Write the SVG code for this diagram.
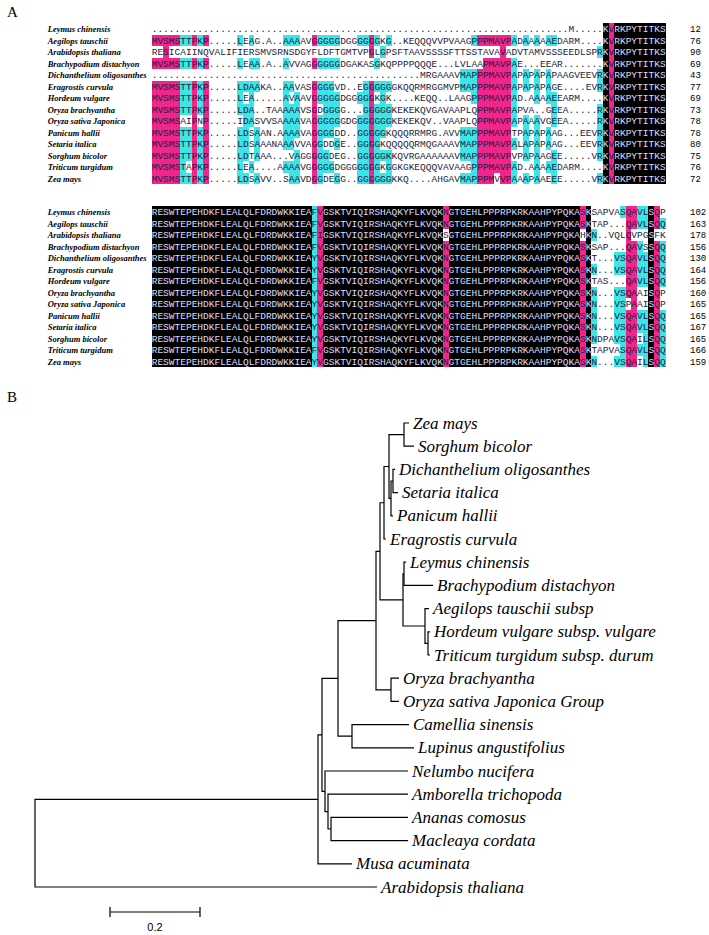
<svg xmlns="http://www.w3.org/2000/svg" xmlns:xlink="http://www.w3.org/1999/xlink" width="709" height="935" viewBox="0 0 709 935">
<style>
.pl{font-family:"Liberation Serif",serif;font-size:15px;fill:#000}
.lbl{font-family:"Liberation Serif",serif;font-weight:bold;font-style:italic;font-size:8.5px;fill:#000}
.seq{font-family:"Liberation Mono",monospace;font-size:9.52px}
.num{font-family:"Liberation Mono",monospace;font-size:9px;fill:#000}
.m{fill:#F0268C}
.c{fill:#3DE4E8}
.k{fill:#000}
.tl{font-family:"Liberation Serif",serif;font-style:italic;font-size:17px;fill:#000}
.br{stroke:#000;stroke-width:1.2;fill:none}
.sc{font-family:"Liberation Sans",sans-serif;font-size:11px;fill:#000}
</style>
<defs>
<clipPath id="k1">
<rect x="602.79" y="23.25" width="5.71" height="161"/>
<rect x="614.21" y="23.25" width="51.39" height="161"/>
</clipPath>
<clipPath id="k2">
<rect x="151.7" y="206.25" width="159.88" height="161"/>
<rect x="322.99" y="206.25" width="119.91" height="161"/>
<rect x="448.62" y="206.25" width="131.33" height="161"/>
<rect x="585.66" y="206.25" width="5.71" height="161"/>
<rect x="648.47" y="206.25" width="5.71" height="161"/>
</clipPath>
<g id="s1" class="seq">
<text x="151.7" y="32.2">.........................................................................M.....KVRKPYTITKS</text>
<text x="151.7" y="43.7">MVSMSTTPKP.....LEAG.A..AAAAVGGGGGDGGGGGGKG..KEQQQVVPVAAGPPPMAVPADAAAAAEDARM....KVRKPYTITKS</text>
<text x="151.7" y="55.2">RESICAIINQVALIFIERSMVSRNSDGYFLDFTGMTVPGLGPSFTAAVSSSSFTTSSTAVAVADVTAMVSSSEEDLSPRKVRKPYTITKS</text>
<text x="151.7" y="66.7">MVSMSTTPKP.....LEAA.A..AVVAGGGGGGDGAKASGKQPPPPQQQE...LVLAAPMAVPAE...EEAR.......KVRKPYTITKS</text>
<text x="151.7" y="78.2">...............................................MRGAAAVMAPPPMAVPAPAPAPAPAAGVEEVRKVRKPYTITKS</text>
<text x="151.7" y="89.7">MVSMSTTPKP.....LDAAKA..AAVASGGGGVD..EGGGGGGKQQRMRGGMVPMAPPPMAVPAPAPAPAGE....EVRKVRKPYTITKS</text>
<text x="151.7" y="101.2">MVSMSTTPKP.....LEA.....AVAAVGGGGGDGGGGGKGK....KEQQ..LAAGPPPMAVPAD.AAAAEEARM....KVRKPYTITKS</text>
<text x="151.7" y="112.7">MVSMSTTPKP.....LDA..TAAAAAVSGDGGGG...GGGGGKEKEKQVGAVAAPLQPPMAVPAPVA..GEEA.....RKVRKPYTITKS</text>
<text x="151.7" y="124.2">MVSMSAIPNP.....IDASVVSAAAAVAGGGGGGDGGGGGGGKEKEKQV..VAAPLQPPMAVPAPAAAVGEEA.....RKVRKPYTITKS</text>
<text x="151.7" y="135.7">MVSMSTTPKP.....LDSAAN.AAAAVAGGGGDD..GGGGGKQQQRRMRG.AVVMAPPPMAVPTPAPAPAAG...EEVRKVRKPYTITKS</text>
<text x="151.7" y="147.2">MVSMSTTPKP.....LDSAAANAAAVVAGGDDGE..GGGGKQQQQQRMQGAAAVMAPPPMAVPALAPAPAAG...EEVRKVRKPYTITKS</text>
<text x="151.7" y="158.7">MVSMSTTPKP.....LDTAAA...VAGGGGGDEG..GGGGGKKQVRGAAAAAAVMAPPPMAVPVPAPAAGEE.....VRKVRKPYTITKS</text>
<text x="151.7" y="170.2">MVSMSTAPKP.....LEA....AAAAVGGGGGDGGGGGGGKGGKGKEQQQVAVAAGPPPMAVPAD.AAAAEDARM....KVRKPYTITKS</text>
<text x="151.7" y="181.7">MVSMSTTPKP.....LDSAVV..SAAVDGGDEGG..GGGGGGKKQ....AHGAVMAPPPMVVPAAAPAAEEE.....VRKVRKPYTITKS</text>
</g>
<g id="s2" class="seq">
<text x="151.7" y="215.2">RESWTEPEHDKFLEALQLFDRDWKKIEAFVGSKTVIQIRSHAQKYFLKVQKNGTGEHLPPPRPKRKAAHPYPQKASKSAPVASQAVLSQP</text>
<text x="151.7" y="226.7">RESWTEPEHDKFLEALQLFDRDWKKIEAFVGSKTVIQIRSHAQKYFLKVQKNGTGEHLPPPRPKRKAAHPYPQKASKTAP...QAVLSQQ</text>
<text x="151.7" y="238.2">RESWTEPEHDKFLEALQLFDRDWKKIEAFIGSKTVIQIRSHAQKYFLKVQKSGTGEHLPPPRPKRKAAHPYPQKAHKN..VQLQVPGSFK</text>
<text x="151.7" y="249.7">RESWTEPEHDKFLEALQLFDRDWKKIEAFVGSKTVIQIRSHAQKYFLKVQKNGTGEHLPPPRPKRKAAHPYPQKASKSAP...QAVSSQQ</text>
<text x="151.7" y="261.2">RESWTEPEHDKFLEALQLFDRDWKKIEAYVGSKTVIQIRSHAQKYFLKVQKNGTGEHLPPPRPKRKAAHPYPQKASKT...VSQAVLSQQ</text>
<text x="151.7" y="272.7">RESWTEPEHDKFLEALQLFDRDWKKIEAYVGSKTVIQIRSHAQKYFLKVQKNGTGEHLPPPRPKRKAAHPYPQKASKN...VSQAVLSQQ</text>
<text x="151.7" y="284.2">RESWTEPEHDKFLEALQLFDRDWKKIEAFVGSKTVIQIRSHAQKYFLKVQKNGTGEHLPPPRPKRKAAHPYPQKASKTAS...QAVLSQQ</text>
<text x="151.7" y="295.7">RESWTEPEHDKFLEALQLFDRDWKKIEAYVGSKTVIQIRSHAQKYFLKVQKNGTGEHLPPPRPKRKAAHPYPQKASKN...VSQAAISQP</text>
<text x="151.7" y="307.2">RESWTEPEHDKFLEALQLFDRDWKKIEAYVGSKTVIQIRSHAQKYFLKVQKNGTGEHLPPPRPKRKAAHPYPQKASKN...VSPAAISQP</text>
<text x="151.7" y="318.7">RESWTEPEHDKFLEALQLFDRDWKKIEAYVGSKTVIQIRSHAQKYFLKVQKNGTGEHLPPPRPKRKAAHPYPQKASKN...VSQAVLSQQ</text>
<text x="151.7" y="330.2">RESWTEPEHDKFLEALQLFDRDWKKIEAYVGSKTVIQIRSHAQKYFLKVQKNGTGEHLPPPRPKRKAAHPYPQKASKN...VSQAVLSQQ</text>
<text x="151.7" y="341.7">RESWTEPEHDKFLEALQLFDRDWKKIEAYVGSKTVIQIRSHAQKYFLKVQKNGTGEHLPPPRPKRKAAHPYPQKASKNDPAVSQAILSQQ</text>
<text x="151.7" y="353.2">RESWTEPEHDKFLEALQLFDRDWKKIEAFVGSKTVIQIRSHAQKYFLKVQKNGTGEHLPPPRPKRKAAHPYPQKASKTAPVASQAVLSQQ</text>
<text x="151.7" y="364.7">RESWTEPEHDKFLEALQLFDRDWKKIEAYVGSKTVIQIRSHAQKYFLKVQKNGTGEHLPPPRPKRKAAHPYPQKASKN...VSQAILSQQ</text>
</g>
</defs>

<text class="pl" x="7" y="17">A</text>

<g id="block1-bg" transform="translate(151.7,23.25) scale(5.71,11.5)" shape-rendering="crispEdges">
<g class="m">
<rect x="0" y="1" width="5" height="1"/><rect x="0" y="3" width="5" height="1"/><rect x="0" y="5" width="5" height="9"/><rect x="2" y="2" width="1" height="1"/>
<rect x="7" y="1" width="1" height="1"/><rect x="7" y="3" width="1" height="1"/><rect x="7" y="5" width="1" height="9"/>
<rect x="9" y="1" width="1" height="1"/><rect x="9" y="3" width="1" height="1"/><rect x="9" y="5" width="1" height="9"/>
<rect x="28" y="1" width="1" height="1"/><rect x="28" y="3" width="1" height="1"/><rect x="28" y="5" width="1" height="9"/>
<rect x="38" y="1" width="1" height="2"/><rect x="38" y="5" width="1" height="9"/>
<rect x="57" y="1" width="1" height="1"/><rect x="57" y="4" width="1" height="10"/>
<rect x="58" y="1" width="2" height="1"/><rect x="58" y="3" width="2" height="11"/>
<rect x="60" y="1" width="1" height="1"/><rect x="60" y="3" width="1" height="10"/>
<rect x="61" y="1" width="1" height="13"/>
<rect x="62" y="1" width="1" height="1"/><rect x="62" y="3" width="1" height="11"/>
<rect x="80" y="0" width="1" height="14"/>
</g>
<g class="c">
<rect x="5" y="1" width="1" height="1"/><rect x="5" y="3" width="1" height="1"/><rect x="5" y="5" width="1" height="3"/><rect x="5" y="9" width="1" height="5"/>
<rect x="6" y="1" width="1" height="1"/><rect x="6" y="3" width="1" height="1"/><rect x="6" y="5" width="1" height="3"/><rect x="6" y="9" width="1" height="3"/><rect x="6" y="13" width="1" height="1"/>
<rect x="8" y="1" width="1" height="1"/><rect x="8" y="3" width="1" height="1"/><rect x="8" y="5" width="1" height="3"/><rect x="8" y="9" width="1" height="5"/>
<rect x="15" y="1" width="1" height="1"/><rect x="15" y="3" width="1" height="1"/><rect x="15" y="5" width="1" height="3"/><rect x="15" y="9" width="1" height="5"/>
<rect x="16" y="5" width="1" height="1"/><rect x="16" y="7" width="1" height="5"/><rect x="16" y="13" width="1" height="1"/>
<rect x="17" y="1" width="1" height="1"/><rect x="17" y="3" width="1" height="1"/><rect x="17" y="5" width="1" height="4"/><rect x="17" y="12" width="1" height="1"/>
<rect x="18" y="3" width="1" height="1"/><rect x="18" y="5" width="1" height="1"/><rect x="18" y="9" width="1" height="3"/><rect x="18" y="13" width="1" height="1"/>
<rect x="23" y="1" width="1" height="1"/><rect x="23" y="3" width="1" height="1"/><rect x="23" y="5" width="1" height="6"/><rect x="23" y="12" width="1" height="1"/>
<rect x="24" y="1" width="1" height="1"/><rect x="24" y="5" width="1" height="1"/><rect x="24" y="7" width="1" height="4"/><rect x="24" y="12" width="1" height="2"/>
<rect x="25" y="1" width="1" height="1"/><rect x="25" y="6" width="1" height="4"/><rect x="25" y="11" width="1" height="3"/>
<rect x="29" y="1" width="1" height="1"/><rect x="29" y="3" width="1" height="1"/><rect x="29" y="5" width="1" height="2"/><rect x="29" y="8" width="1" height="6"/>
<rect x="30" y="1" width="1" height="1"/><rect x="30" y="3" width="1" height="1"/><rect x="30" y="5" width="1" height="5"/><rect x="30" y="11" width="1" height="2"/>
<rect x="31" y="1" width="1" height="1"/><rect x="31" y="3" width="1" height="1"/><rect x="31" y="5" width="1" height="5"/><rect x="31" y="12" width="1" height="1"/>
<rect x="32" y="1" width="1" height="1"/><rect x="32" y="3" width="1" height="1"/><rect x="32" y="6" width="1" height="3"/><rect x="32" y="10" width="1" height="1"/><rect x="32" y="13" width="1" height="1"/>
<rect x="36" y="1" width="1" height="1"/><rect x="36" y="6" width="1" height="1"/><rect x="36" y="8" width="1" height="6"/>
<rect x="37" y="1" width="1" height="1"/><rect x="37" y="5" width="1" height="9"/>
<rect x="39" y="1" width="1" height="1"/><rect x="39" y="3" width="1" height="1"/><rect x="39" y="5" width="1" height="1"/><rect x="39" y="7" width="1" height="7"/>
<rect x="40" y="2" width="1" height="1"/><rect x="40" y="5" width="1" height="5"/><rect x="40" y="11" width="1" height="1"/><rect x="40" y="13" width="1" height="1"/>
<rect x="41" y="1" width="1" height="1"/><rect x="41" y="5" width="1" height="1"/><rect x="41" y="7" width="1" height="2"/><rect x="41" y="11" width="1" height="3"/>
<rect x="54" y="4" width="2" height="2"/><rect x="54" y="9" width="2" height="3"/><rect x="54" y="13" width="2" height="1"/>
<rect x="56" y="1" width="1" height="1"/><rect x="56" y="4" width="1" height="3"/><rect x="56" y="9" width="1" height="5"/>
<rect x="63" y="1" width="1" height="1"/><rect x="63" y="3" width="1" height="6"/><rect x="63" y="10" width="1" height="1"/><rect x="63" y="12" width="1" height="2"/>
<rect x="65" y="1" width="1" height="1"/><rect x="65" y="4" width="1" height="2"/><rect x="65" y="8" width="1" height="4"/><rect x="65" y="13" width="1" height="1"/>
<rect x="67" y="1" width="1" height="1"/><rect x="67" y="4" width="1" height="3"/><rect x="67" y="8" width="1" height="6"/>
<rect x="69" y="1" width="1" height="1"/><rect x="69" y="4" width="1" height="3"/><rect x="69" y="9" width="1" height="2"/><rect x="69" y="12" width="1" height="1"/>
<rect x="70" y="1" width="1" height="1"/><rect x="70" y="6" width="1" height="3"/><rect x="70" y="11" width="1" height="3"/>
<rect x="78" y="2" width="1" height="1"/><rect x="78" y="4" width="1" height="2"/><rect x="78" y="7" width="1" height="5"/><rect x="78" y="13" width="1" height="1"/>
</g>
<g class="k">
<rect x="79" y="0" width="1" height="14"/><rect x="81" y="0" width="9" height="14"/>
</g>
</g>

<g id="block2-bg" transform="translate(151.7,206.25) scale(5.71,11.5)" shape-rendering="crispEdges">
<g class="k">
<rect x="0" y="0" width="28" height="14"/><rect x="30" y="0" width="21" height="14"/><rect x="52" y="0" width="23" height="14"/><rect x="76" y="0" width="1" height="14"/><rect x="87" y="0" width="1" height="14"/>
</g>
<g class="c">
<rect x="28" y="0" width="1" height="14"/>
<rect x="77" y="2" width="1" height="1"/><rect x="77" y="5" width="1" height="1"/><rect x="77" y="7" width="1" height="5"/><rect x="77" y="13" width="1" height="1"/>
<rect x="81" y="4" width="1" height="2"/><rect x="81" y="7" width="1" height="5"/><rect x="81" y="13" width="1" height="1"/>
<rect x="82" y="0" width="1" height="1"/><rect x="82" y="4" width="1" height="2"/><rect x="82" y="7" width="1" height="7"/>
<rect x="85" y="0" width="1" height="2"/><rect x="85" y="3" width="1" height="4"/><rect x="85" y="9" width="1" height="2"/><rect x="85" y="12" width="1" height="1"/>
<rect x="86" y="0" width="1" height="2"/><rect x="86" y="4" width="1" height="3"/><rect x="86" y="9" width="1" height="5"/>
<rect x="89" y="1" width="1" height="1"/><rect x="89" y="3" width="1" height="4"/><rect x="89" y="9" width="1" height="5"/>
</g>
<g class="m">
<rect x="29" y="0" width="1" height="14"/>
<rect x="51" y="0" width="1" height="2"/><rect x="51" y="3" width="1" height="11"/>
<rect x="75" y="0" width="1" height="2"/><rect x="75" y="3" width="1" height="11"/>
<rect x="83" y="0" width="1" height="8"/><rect x="83" y="9" width="1" height="5"/>
<rect x="84" y="0" width="1" height="2"/><rect x="84" y="3" width="1" height="11"/>
<rect x="88" y="0" width="1" height="2"/><rect x="88" y="3" width="1" height="11"/>
</g>
</g>

<g id="block1-text">
<use xlink:href="#s1" href="#s1" fill="#1c1c3c"/>
<use xlink:href="#s1" href="#s1" fill="#d6d6ee" clip-path="url(#k1)"/>
</g>
<g id="block2-text">
<use xlink:href="#s2" href="#s2" fill="#1c1c3c"/>
<use xlink:href="#s2" href="#s2" fill="#d6d6ee" clip-path="url(#k2)"/>
</g>

<g id="block1-labels" class="lbl">
<text x="47.7" y="32.2">Leymus chinensis</text>
<text x="47.7" y="43.7">Aegilops tauschii</text>
<text x="47.7" y="55.2">Arabidopsis thaliana</text>
<text x="47.7" y="66.7">Brachypodium distachyon</text>
<text x="47.7" y="78.2">Dichanthelium oligosanthes</text>
<text x="47.7" y="89.7">Eragrostis curvula</text>
<text x="47.7" y="101.2">Hordeum vulgare</text>
<text x="47.7" y="112.7">Oryza brachyantha</text>
<text x="47.7" y="124.2">Oryza sativa Japonica</text>
<text x="47.7" y="135.7">Panicum hallii</text>
<text x="47.7" y="147.2">Setaria italica</text>
<text x="47.7" y="158.7">Sorghum bicolor</text>
<text x="47.7" y="170.2">Triticum turgidum</text>
<text x="47.7" y="181.7">Zea mays</text>
</g>
<g id="block1-numbers" class="num">
<text x="690" y="32.2">12</text><text x="690" y="43.7">76</text><text x="690" y="55.2">90</text><text x="690" y="66.7">69</text><text x="690" y="78.2">43</text><text x="690" y="89.7">77</text><text x="690" y="101.2">69</text><text x="690" y="112.7">73</text><text x="690" y="124.2">78</text><text x="690" y="135.7">78</text><text x="690" y="147.2">80</text><text x="690" y="158.7">75</text><text x="690" y="170.2">76</text><text x="690" y="181.7">72</text>
</g>
<g id="block2-labels" class="lbl">
<text x="47.7" y="215.2">Leymus chinensis</text>
<text x="47.7" y="226.7">Aegilops tauschii</text>
<text x="47.7" y="238.2">Arabidopsis thaliana</text>
<text x="47.7" y="249.7">Brachypodium distachyon</text>
<text x="47.7" y="261.2">Dichanthelium oligosanthes</text>
<text x="47.7" y="272.7">Eragrostis curvula</text>
<text x="47.7" y="284.2">Hordeum vulgare</text>
<text x="47.7" y="295.7">Oryza brachyantha</text>
<text x="47.7" y="307.2">Oryza sativa Japonica</text>
<text x="47.7" y="318.7">Panicum hallii</text>
<text x="47.7" y="330.2">Setaria italica</text>
<text x="47.7" y="341.7">Sorghum bicolor</text>
<text x="47.7" y="353.2">Triticum turgidum</text>
<text x="47.7" y="364.7">Zea mays</text>
</g>
<g id="block2-numbers" class="num">
<text x="690" y="215.2">102</text><text x="690" y="226.7">163</text><text x="690" y="238.2">178</text><text x="690" y="249.7">156</text><text x="690" y="261.2">130</text><text x="690" y="272.7">164</text><text x="690" y="284.2">156</text><text x="690" y="295.7">160</text><text x="690" y="307.2">165</text><text x="690" y="318.7">165</text><text x="690" y="330.2">167</text><text x="690" y="341.7">165</text><text x="690" y="353.2">166</text><text x="690" y="364.7">159</text>
</g>

<text class="pl" x="7" y="402">B</text>

<g id="connectors" class="br">
<path d="M409 423H404V446.2H414"/>
<path d="M395 469.4H393V492.6H398"/>
<path d="M393 481H391V515.8H393"/>
<path d="M404 434.6H389V498.4H391"/>
<path d="M389 466.5H384V539H386"/>
<path d="M406 562.2H404V585.4H433"/>
<path d="M430 631.8H428V655H430"/>
<path d="M429 608.6H425V643.4H428"/>
<path d="M404 573.8H403V626H425"/>
<path d="M384 502.75H380V599.9H403"/>
<path d="M399 678.2H391V701.4H399"/>
<path d="M380 551.3H376V689.8H391"/>
<path d="M409 724.6H352V747.8H414"/>
<path d="M376 620.6H338V736.2H352"/>
<path d="M408 817.4H331V840.6H408"/>
<path d="M408 794.2H328V829H331"/>
<path d="M408 771H325V811.6H328"/>
<path d="M338 678.4H322V791.3H325"/>
<path d="M322 734.9H318V863.8H352"/>
<path d="M318 799.3H35V887H377"/>
</g>

<g id="leaf-zea"><text class="tl" x="413" y="428.5">Zea mays</text></g>
<g id="leaf-sorghum"><text class="tl" x="418" y="451.7">Sorghum bicolor</text></g>
<g id="leaf-dichanthelium"><text class="tl" x="399" y="474.9">Dichanthelium oligosanthes</text></g>
<g id="leaf-setaria"><text class="tl" x="402" y="498.1">Setaria italica</text></g>
<g id="leaf-panicum"><text class="tl" x="397" y="521.3">Panicum hallii</text></g>
<g id="leaf-eragrostis"><text class="tl" x="390" y="544.5">Eragrostis curvula</text></g>
<g id="leaf-leymus"><text class="tl" x="410" y="567.7">Leymus chinensis</text></g>
<g id="leaf-brachypodium"><text class="tl" x="437" y="590.9">Brachypodium distachyon</text></g>
<g id="leaf-aegilops"><text class="tl" x="433" y="614.1">Aegilops tauschii subsp</text></g>
<g id="leaf-hordeum"><text class="tl" x="434" y="637.3">Hordeum vulgare subsp. vulgare</text></g>
<g id="leaf-triticum"><text class="tl" x="434" y="660.5">Triticum turgidum subsp. durum</text></g>
<g id="leaf-oryza-b"><text class="tl" x="403" y="683.7">Oryza brachyantha</text></g>
<g id="leaf-oryza-s"><text class="tl" x="403" y="706.9">Oryza sativa Japonica Group</text></g>
<g id="leaf-camellia"><text class="tl" x="413" y="730.1">Camellia sinensis</text></g>
<g id="leaf-lupinus"><text class="tl" x="418" y="753.3">Lupinus angustifolius</text></g>
<g id="leaf-nelumbo"><text class="tl" x="412" y="776.5">Nelumbo nucifera</text></g>
<g id="leaf-amborella"><text class="tl" x="412" y="799.7">Amborella trichopoda</text></g>
<g id="leaf-ananas"><text class="tl" x="412" y="822.9">Ananas comosus</text></g>
<g id="leaf-macleaya"><text class="tl" x="412" y="846.1">Macleaya cordata</text></g>
<g id="leaf-musa"><text class="tl" x="356" y="869.3">Musa acuminata</text></g>
<g id="leaf-arabidopsis"><text class="tl" x="381" y="892.5">Arabidopsis thaliana</text></g>

<g id="scalebar">
<path class="br" d="M110 912H200M110 907V917M200 907V917"/>
<text class="sc" x="155" y="931" text-anchor="middle">0.2</text>
</g>
</svg>
